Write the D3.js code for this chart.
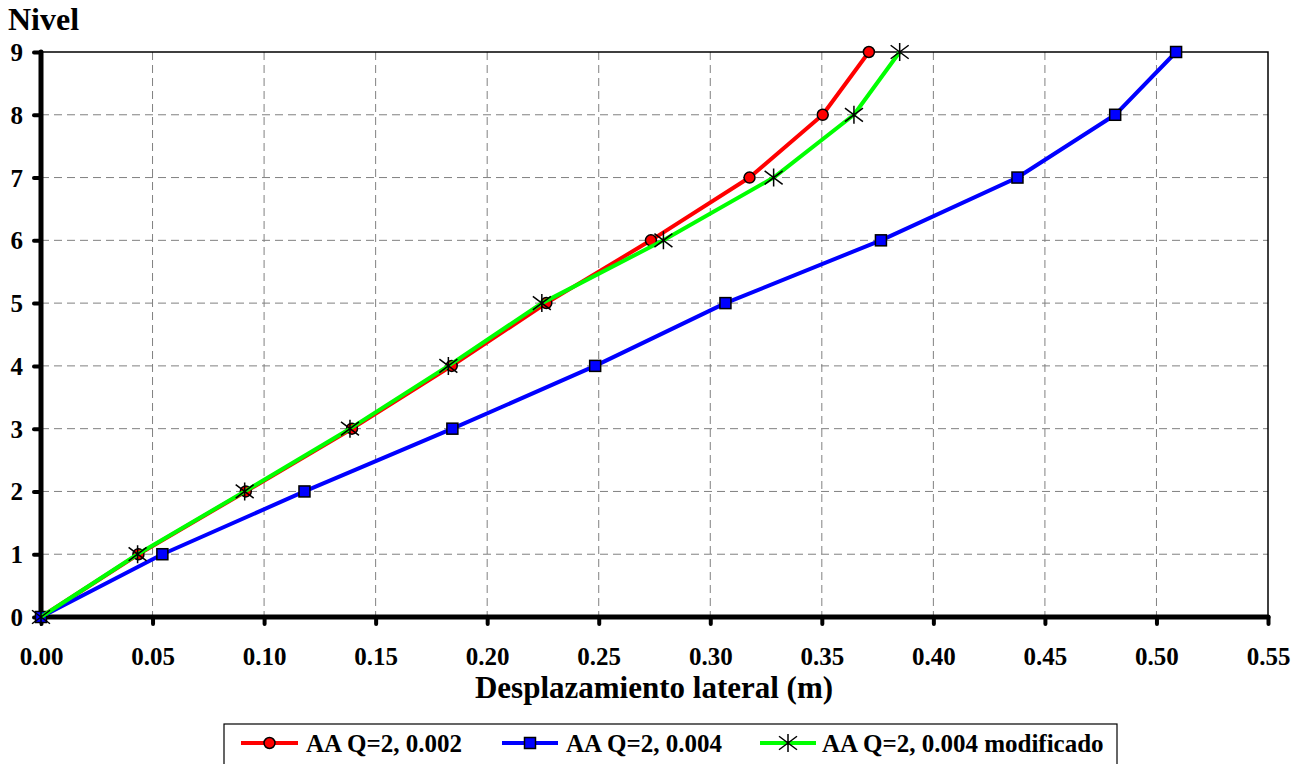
<!DOCTYPE html>
<html>
<head>
<meta charset="utf-8">
<script src="https://cdn.jsdelivr.net/npm/d3@7"></script>
<style>
  html, body { margin: 0; padding: 0; background: #fff; }
  svg { display: block; }
  svg text { font-family: "Times New Roman", "Liberation Serif", Tinos, "DejaVu Serif", serif; font-weight: bold; fill: #000; }
</style>
</head>
<body>
<svg id="chart" width="1303" height="764"></svg>
<script>
// ---- data ----
const levels = [0, 1, 2, 3, 4, 5, 6, 7, 8, 9];
const seriesNames = ["AA Q=2, 0.002", "AA Q=2, 0.004", "AA Q=2, 0.004 modificado"];
const dispRed   = [0, 0.0437, 0.0918, 0.1394, 0.1841, 0.2265, 0.2734, 0.3176, 0.3504, 0.3711];
const dispBlue  = [0, 0.0544, 0.1181, 0.1844, 0.2484, 0.3068, 0.3765, 0.4377, 0.4815, 0.5088];
const dispGreen = [0, 0.0433, 0.0913, 0.1385, 0.1826, 0.2245, 0.2790, 0.3284, 0.3644, 0.3849];
const xTicks = [0, 0.05, 0.10, 0.15, 0.20, 0.25, 0.30, 0.35, 0.40, 0.45, 0.50, 0.55];
const yTicks = [0, 1, 2, 3, 4, 5, 6, 7, 8, 9];
const xTitle = "Desplazamiento lateral (m)";
const yTitle = "Nivel";

const series = [
  { name: seriesNames[0], values: dispRed,   color: "#FF0000", marker: "circle" },
  { name: seriesNames[1], values: dispBlue,  color: "#0000FF", marker: "square" },
  { name: seriesNames[2], values: dispGreen, color: "#00FF00", marker: "star" }
];

const FONT = "'Times New Roman', 'Liberation Serif', Tinos, 'DejaVu Serif', serif";
const svg = d3.select("#chart");
const L = 41, R = 1268, T = 52, B = 617;
const x = d3.scaleLinear().domain([0, 0.55]).range([L, R]);
const y = d3.scaleLinear().domain([0, 9]).range([B, T]);

// grid
const grid = svg.append("g");
grid.selectAll("line.vg").data(xTicks.filter(d => d > 0 && d < 0.55)).enter().append("line")
  .attr("x1", d => x(d)).attr("x2", d => x(d)).attr("y1", T).attr("y2", B)
  .attr("stroke", "#808080").attr("stroke-width", 1).attr("stroke-dasharray", "8,5");
grid.selectAll("line.hg").data(yTicks.filter(d => d > 0 && d < 9)).enter().append("line")
  .attr("x1", L).attr("x2", R).attr("y1", d => y(d)).attr("y2", d => y(d))
  .attr("stroke", "#808080").attr("stroke-width", 1).attr("stroke-dasharray", "8,5");

// top and right border
svg.append("path").attr("d", `M${L},${T}H${R}V${B}`).attr("fill", "none")
  .attr("stroke", "#000").attr("stroke-width", 1.5);

// axes
const xAxis = d3.axisBottom(x).tickValues(xTicks).tickFormat(d3.format(".2f")).tickSize(7);
const yAxis = d3.axisLeft(y).tickValues(yTicks).tickFormat(d3.format("d")).tickSize(7);

const gx = svg.append("g").attr("transform", `translate(0,${B})`).call(xAxis);
const gy = svg.append("g").attr("transform", `translate(${L},0)`).call(yAxis);
[gx, gy].forEach(g => {
  g.attr("font-family", FONT).attr("font-size", 25);
  g.select(".domain").remove();
  g.selectAll(".tick line").attr("stroke", "#000").attr("stroke-width", 4).attr("stroke-linecap", "round");
  g.selectAll(".tick text").style("font-family", FONT).style("font-weight", "bold")
    .style("font-size", "25px").attr("fill", "#000");
});
gx.selectAll(".tick text").attr("dy", "0.71em").attr("y", 30);
gy.selectAll(".tick text").attr("x", -18).attr("dy", "0.34em");

svg.append("line").attr("x1", L).attr("x2", L).attr("y1", T).attr("y2", B)
  .attr("stroke", "#000").attr("stroke-width", 5).attr("stroke-linecap", "round");
svg.append("line").attr("x1", L).attr("x2", R).attr("y1", B).attr("y2", B)
  .attr("stroke", "#000").attr("stroke-width", 5).attr("stroke-linecap", "round");

// titles
svg.append("text").attr("x", 8).attr("y", 30).style("font-family", FONT).style("font-size", "32px").text(yTitle);
svg.append("text").attr("x", 654).attr("y", 698).attr("text-anchor", "middle")
  .style("font-family", FONT).style("font-size", "31px").text(xTitle);

// marker drawing
function drawMarker(g, type, cx, cy) {
  if (type === "circle") {
    g.append("circle").attr("cx", cx).attr("cy", cy).attr("r", 5.5)
      .attr("fill", "#FF0000").attr("stroke", "#000").attr("stroke-width", 1.5);
  } else if (type === "square") {
    g.append("rect").attr("x", cx - 5.5).attr("y", cy - 5.5).attr("width", 11).attr("height", 11)
      .attr("fill", "#0000FF").attr("stroke", "#000").attr("stroke-width", 1.5);
  } else {
    const s = 9;
    g.append("path")
      .attr("d", `M${cx - s},${cy - s * 0.75}L${cx + s},${cy + s * 0.75}M${cx - s},${cy + s * 0.75}L${cx + s},${cy - s * 0.75}M${cx},${cy - s}L${cx},${cy + s}`)
      .attr("stroke", "#000").attr("stroke-width", 1.5).attr("fill", "none");
  }
}

// series
const line = d3.line().x(d => x(d[0])).y(d => y(d[1]));
series.forEach(s => {
  const pts = s.values.map((v, i) => [v, levels[i]]);
  const g = svg.append("g");
  g.append("path").attr("d", line(pts)).attr("fill", "none").attr("stroke", s.color)
    .attr("stroke-width", 4).attr("stroke-linejoin", "round");
  pts.forEach(p => drawMarker(g, s.marker, x(p[0]), y(p[1])));
});

// legend
const lg = svg.append("g");
lg.append("rect").attr("x", 224).attr("y", 724).attr("width", 893).attr("height", 50)
  .attr("fill", "#fff").attr("stroke", "#000").attr("stroke-width", 1.2);
const legendPos = [
  { lx1: 241, lx2: 298, tx: 306 },
  { lx1: 502, lx2: 558, tx: 566 },
  { lx1: 760, lx2: 816, tx: 822 }
];
series.forEach((s, i) => {
  const p = legendPos[i];
  const cy = 743;
  lg.append("line").attr("x1", p.lx1).attr("x2", p.lx2).attr("y1", cy).attr("y2", cy)
    .attr("stroke", s.color).attr("stroke-width", 4);
  drawMarker(lg, s.marker, (p.lx1 + p.lx2) / 2, cy);
  lg.append("text").attr("x", p.tx).attr("y", cy + 9).style("font-family", FONT).style("font-size", "25px").text(s.name);
});
</script>
</body>
</html>
